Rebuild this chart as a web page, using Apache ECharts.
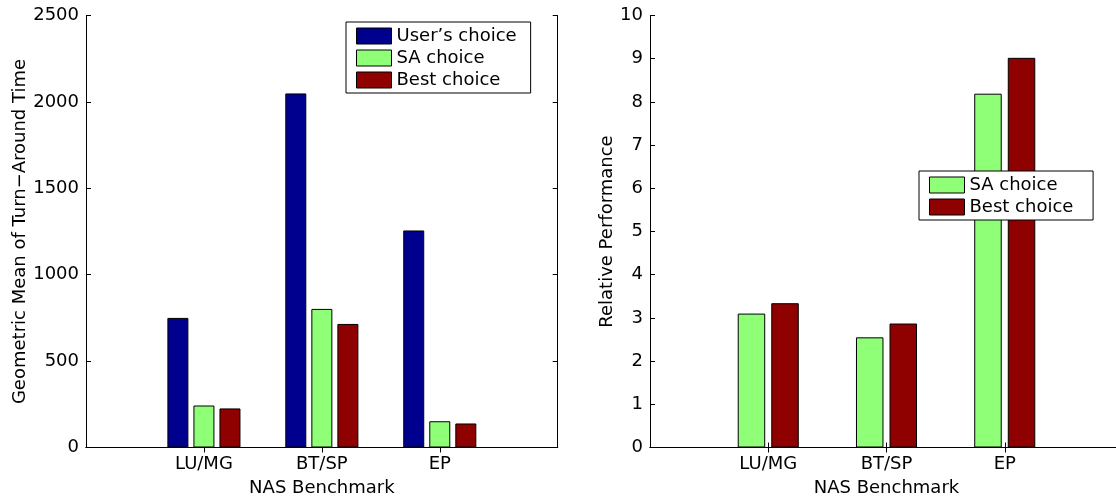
<!DOCTYPE html>
<html>
<head>
<meta charset="utf-8">
<script src="https://cdn.jsdelivr.net/npm/echarts@6/dist/echarts.min.js"></script>
<style>
html,body{margin:0;padding:0;background:#fff;}
#c{width:1116px;height:500px;}
</style>
</head>
<body>
<div id="c"></div>
<script>
// ---- data ----
const categories = ['LU/MG', 'BT/SP', 'EP'];
const usersChoice = [750, 2049, 1256];
const saChoiceTime = [243, 802, 152];
const bestChoiceTime = [226, 715, 139];
const saChoicePerf = [3.10, 2.55, 8.19];
const bestChoicePerf = [3.34, 2.87, 9.02];
const leftYTicks = {min: 0, max: 2500, interval: 500};
const rightYTicks = {min: 0, max: 10, interval: 1};
const leftYName = 'Geometric Mean of Turn\u2212Around Time';
const rightYName = 'Relative Performance';
const xName = 'NAS Benchmark';

// ---- styling / construction ----
const FONT = 'DejaVu Sans, Liberation Sans, Arial, sans-serif';
const FS = 18;
const COL_BLUE = '#00008F', COL_GREEN = '#8FFF78', COL_RED = '#8F0000';
const padCats = [''].concat(categories, ['']);
const pad = arr => [null].concat(arr, [null]);
const tickShow = (idx) => idx >= 1 && idx <= categories.length;

function xAxes(gridIndex) {
  return [
    {
      type: 'category', gridIndex, data: padCats, boundaryGap: false, position: 'bottom',
      name: xName, nameLocation: 'middle', nameGap: 32,
      nameTextStyle: {fontFamily: FONT, fontSize: FS, color: '#000'},
      axisLine: {show: true, lineStyle: {color: '#000', width: 1}},
      axisTick: {show: true, inside: true, length: 5, interval: tickShow, lineStyle: {color: '#000'}},
      axisLabel: {show: true, interval: 0, margin: 8, fontFamily: FONT, fontSize: FS, color: '#000'},
      splitLine: {show: false}
    },
    {
      type: 'category', gridIndex, data: padCats, boundaryGap: false, position: 'top',
      axisLine: {show: true, lineStyle: {color: '#000', width: 1}},
      axisTick: {show: true, inside: true, length: 5, interval: tickShow, lineStyle: {color: '#000'}},
      axisLabel: {show: false},
      splitLine: {show: false}
    }
  ];
}
function yAxes(gridIndex, t, name, nameGap) {
  return [
    {
      type: 'value', gridIndex, position: 'left', min: t.min, max: t.max, interval: t.interval,
      name, nameLocation: 'middle', nameGap, nameRotate: 90,
      nameTextStyle: {fontFamily: FONT, fontSize: FS, color: '#000'},
      axisLine: {show: true, lineStyle: {color: '#000', width: 1}},
      axisTick: {show: true, inside: true, length: 5, lineStyle: {color: '#000'}},
      axisLabel: {margin: 7, fontFamily: FONT, fontSize: FS, color: '#000', formatter: v => String(v)},
      splitLine: {show: false}
    },
    {
      type: 'value', gridIndex, position: 'right', min: t.min, max: t.max, interval: t.interval,
      axisLine: {show: true, lineStyle: {color: '#000', width: 1}},
      axisTick: {show: true, inside: true, length: 5, lineStyle: {color: '#000'}},
      axisLabel: {show: false},
      splitLine: {show: false}
    }
  ];
}
function barSeries(name, data, color, xi, yi, w, gap) {
  return {
    type: 'bar', name, data: pad(data), xAxisIndex: xi, yAxisIndex: yi,
    barWidth: w, barGap: gap,
    itemStyle: {color, borderColor: '#000', borderWidth: 1},
    emphasis: {disabled: true}, z: 1
  };
}

const legendCommon = {
  orient: 'vertical', itemWidth: 35, itemHeight: 16, itemGap: 4,
  padding: [5, 14, 4, 10], borderColor: '#000', borderWidth: 1, backgroundColor: '#fff',
  borderRadius: 0, itemStyle: {borderColor: '#000', borderWidth: 1},
  textStyle: {fontFamily: FONT, fontSize: FS, color: '#000'},
  icon: 'rect', z: 10, selectedMode: false
};

const option = {
  animation: false,
  backgroundColor: '#fff',
  grid: [
    {left: 86, top: 15.5, right: 558.3, bottom: 52.5, show: false, outerBoundsMode: 'none', containLabel: false},
    {left: 650, top: 15.5, right: -7, bottom: 52.5, show: false, outerBoundsMode: 'none', containLabel: false}
  ],
  xAxis: xAxes(0).concat(xAxes(1)),
  yAxis: yAxes(0, leftYTicks, leftYName, 57).concat(yAxes(1, rightYTicks, rightYName, 33)),
  legend: [
    Object.assign({}, legendCommon, {left: 346, top: 22,
      data: ["User\u2019s choice", 'SA choice', 'Best choice'].map(n => ({name: n}))}),
    Object.assign({}, legendCommon, {left: 919, top: 171,
      data: ['SA choice ', 'Best choice '].map(n => ({name: n}))})
  ],
  series: [
    barSeries("User\u2019s choice", usersChoice, COL_BLUE, 0, 0, 21, '24%'),
    barSeries('SA choice', saChoiceTime, COL_GREEN, 0, 0, 21, '24%'),
    barSeries('Best choice', bestChoiceTime, COL_RED, 0, 0, 21, '24%'),
    barSeries('SA choice ', saChoicePerf, COL_GREEN, 2, 2, 27.5, '22%'),
    barSeries('Best choice ', bestChoicePerf, COL_RED, 2, 2, 27.5, '22%')
  ]
};
const chart = echarts.init(document.getElementById('c'), null, {renderer: 'canvas'});
chart.setOption(option);
</script>
</body>
</html>
